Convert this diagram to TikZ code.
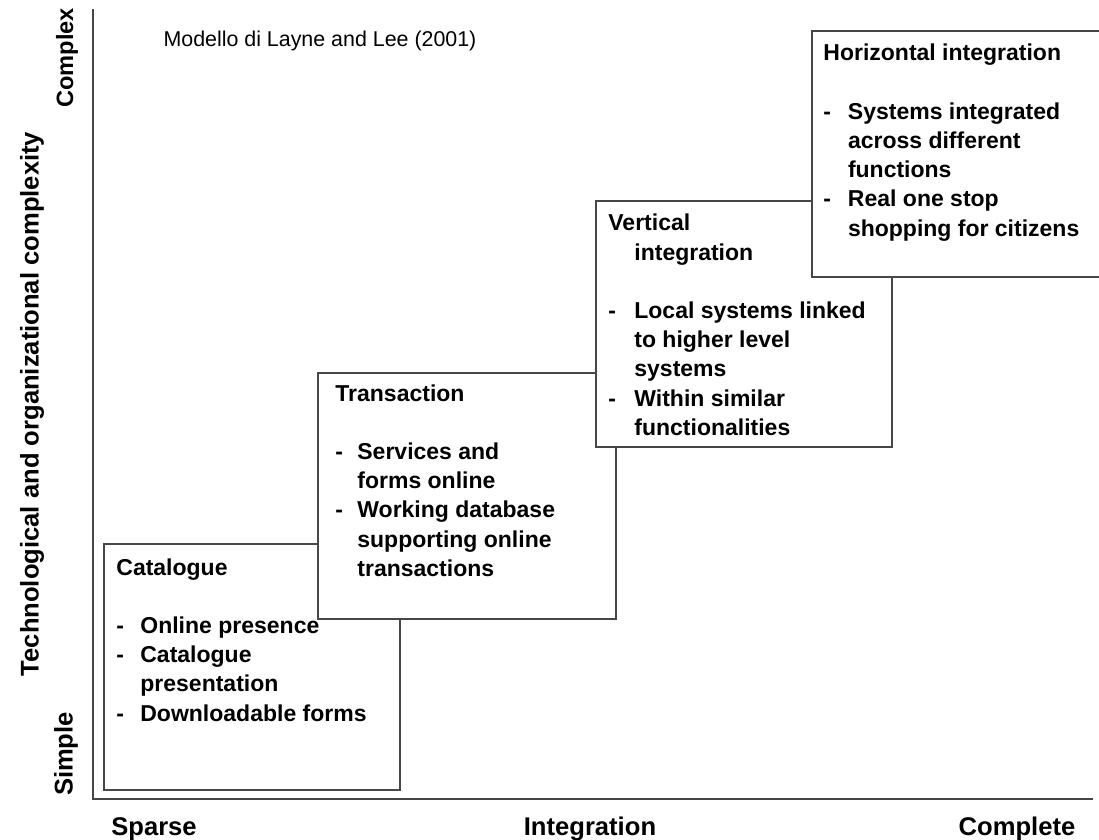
\documentclass[tikz,border=0pt]{standalone}
\usepackage{fontspec}
\setmainfont{Liberation Sans}
\usetikzlibrary{calc}
\newlength\bi
\newcommand\bul[1]{\makebox[\bi][l]{-}#1}
\newcommand\cont[1]{\hspace*{\bi}#1}
\begin{document}
\begin{tikzpicture}[x=0.5pt,y=-0.5pt,
  box/.style={draw=black!72, line width=0.9pt, fill=white, anchor=north west,
    inner sep=0pt, minimum height=123pt},
  txt/.style={anchor=base west, inner sep=0pt,
    font=\fontsize{11.5pt}{14.6pt}\selectfont\bfseries},
  axis/.style={draw=black!72, line width=0.9pt},
  axlab/.style={font=\fontsize{12.8pt}{15pt}\selectfont\bfseries, inner sep=0pt},
  ]
\useasboundingbox (0,0) rectangle (1099,840);

% axes
\coordinate (ytop) at (93,9);
\coordinate (o) at (93,799);
\coordinate (xend) at (1093,799);
\draw[axis] (ytop) -- (o) -- (xend);

% axis labels
\node[axlab, rotate=90] (ylab) at (32,404) {Technological and organizational complexity};
\node[axlab, rotate=90, font=\fontsize{11.8pt}{14pt}\selectfont\bfseries] (complex) at (67,58) {Complex};
\node[axlab, rotate=90] (simple) at (66,754) {Simple};
\node[axlab, anchor=base] (sparse) at (154,835) {Sparse};
\node[axlab, anchor=base] (integ) at (590,835) {Integration};
\node[axlab, anchor=base] (complete) at (1017,835) {Complete};

% title
\node[anchor=base, inner sep=0pt, font=\fontsize{10.7pt}{13pt}\selectfont] (title) at (320,47) {Modello di Layne and Lee (2001)};

% Catalogue
\node[box, minimum width=148pt] (cat) at (103,543) {};
\node[txt] (catT) at ($(cat.north west)+(13,32)$) {\setlength\bi{12pt}\parbox[t]{160pt}{%
Catalogue\\
\mbox{}\\
\bul{Online presence}\\
\bul{Catalogue}\\
\cont{presentation}\\
\bul{Downloadable forms}}};

% Transaction
\node[box, minimum width=149pt] (tra) at (317,372) {};
\node[txt] (traT) at ($(tra.north west)+(18,29)$) {\setlength\bi{11pt}\parbox[t]{160pt}{%
Transaction\\
\mbox{}\\
\bul{Services and}\\
\cont{forms online}\\
\bul{Working database}\\
\cont{supporting online}\\
\cont{transactions}}};

% Vertical integration
\node[box, minimum width=148pt] (ver) at (595,200) {};
\node[txt] (verT) at ($(ver.north west)+(13,31)$) {\setlength\bi{13pt}\parbox[t]{160pt}{%
Vertical\\
\cont{integration}\\
\mbox{}\\
\bul{Local systems linked}\\
\cont{to higher level}\\
\cont{systems}\\
\bul{Within similar}\\
\cont{functionalities}}};

% Horizontal integration
\node[box, minimum width=152pt] (hor) at (811,30) {};
\node[txt] (horT) at ($(hor.north west)+(12,31)$) {\setlength\bi{12.3pt}\parbox[t]{160pt}{%
Horizontal integration\\
\mbox{}\\
\bul{Systems integrated}\\
\cont{across different}\\
\cont{functions}\\
\bul{Real one stop}\\
\cont{shopping for citizens}}};
\end{tikzpicture}
\end{document}
